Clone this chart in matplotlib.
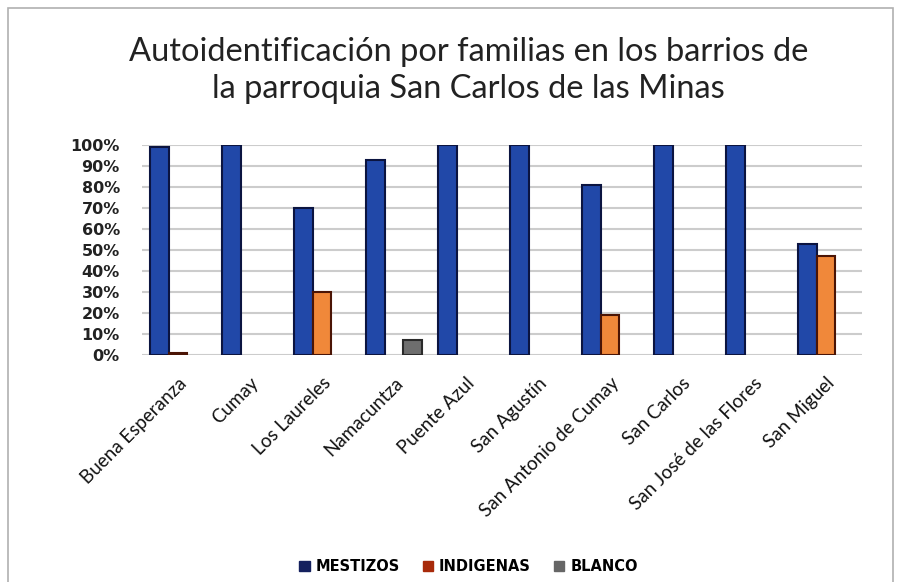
import matplotlib
matplotlib.use('Agg')
import matplotlib.pyplot as plt
import numpy as np
from matplotlib.patches import Rectangle

barrios = ['Buena Esperanza', 'Cumay', 'Los Laureles', 'Namacuntza', 'Puente Azul',
           'San Agustín', 'San Antonio de Cumay', 'San Carlos', 'San José de las Flores',
           'San Miguel']
mestizos = [99, 100, 70, 93, 100, 100, 81, 100, 100, 53]
indigenas = [1, 0, 30, 0, 0, 0, 19, 0, 0, 47]
blanco = [0, 0, 0, 7, 0, 0, 0, 0, 0, 0]
yticks = [0, 10, 20, 30, 40, 50, 60, 70, 80, 90, 100]

fig = plt.figure(figsize=(9.01, 5.82), dpi=100)
fig.patches.append(Rectangle((8/901, -0.05), 885/901, 1 - 8/582 + 0.05, transform=fig.transFigure,
                             fill=False, edgecolor='#b0b0b0', linewidth=1.2))

ax = fig.add_axes([142/901, 227/582, 720/901, 210/582])
x = np.arange(len(barrios))
w = 0.26

def draw(offset, vals, color, edge):
    lw = [1.5 if v > 0 else 0 for v in vals]
    ax.bar(x + offset, vals, w, color=color, edgecolor=edge, linewidth=lw, zorder=3)

draw(-w, mestizos, '#2148a8', '#0b1440')
draw(0, indigenas, '#f0883a', '#4a1405')
draw(w, blanco, '#6e6e6e', '#2a2a2a')

ax.set_xlim(-0.5, len(barrios) - 0.5)
ax.set_ylim(0, 100)
ax.set_yticks(yticks)
ax.set_yticklabels([f'{t}%' for t in yticks], fontsize=11.5, fontweight='bold',
                   family='DejaVu Sans', color='#222222')
ax.tick_params(axis='y', length=0, pad=16)
ax.tick_params(axis='x', length=0, pad=14)
ax.set_xticks(x)
ax.set_xticklabels(barrios, rotation=45, ha='right', rotation_mode='anchor',
                   fontsize=13.5, family='Lato', color='#111111')
ax.grid(axis='y', color='#cccccc', linewidth=1.5, zorder=0)
for s in ax.spines.values():
    s.set_visible(False)

fig.text(0.52, 0.879, 'Autoidentificación por familias en los barrios de\nla parroquia San Carlos de las Minas',
         ha='center', va='center', fontsize=23.5, family='Lato',
         color='#222222', linespacing=1.3)

handles = [Rectangle((0, 0), 1, 1, color=c) for c in ['#14205e', '#a82a0a', '#666666']]
fig.legend(handles, ['MESTIZOS', 'INDIGENAS', 'BLANCO'], loc='center', bbox_to_anchor=(0.52, 0.026),
           ncol=3, frameon=False, handlelength=0.7, handleheight=0.7, handletextpad=0.4,
           columnspacing=1.6, prop={'size': 10.5, 'weight': 'bold', 'family': 'DejaVu Sans'})

fig.savefig('out.png', dpi=100, facecolor='white')
